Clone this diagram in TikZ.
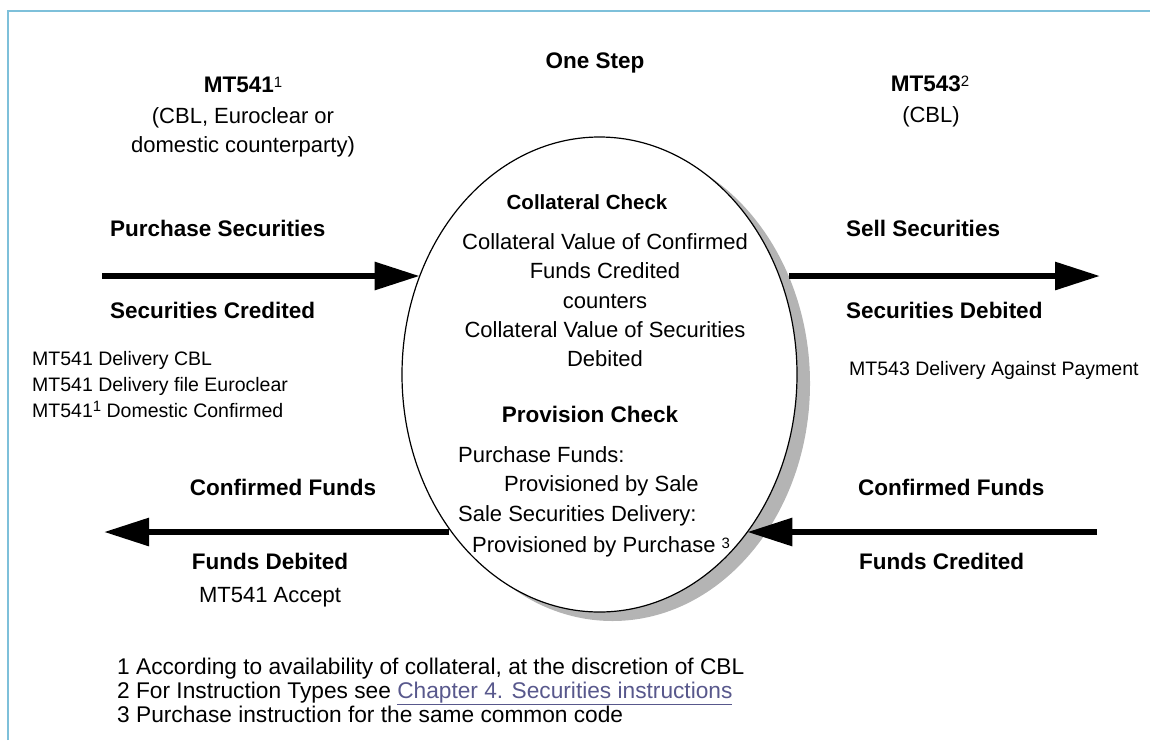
\documentclass[tikz,border=0pt]{standalone}
\usepackage{fontspec}
\setmainfont{Liberation Sans}
\usetikzlibrary{shapes.geometric,arrows.meta}
\definecolor{framecol}{RGB}{126,192,218}
\definecolor{shadowcol}{RGB}{180,180,180}
\definecolor{linkcol}{RGB}{88,88,140}
\newcommand\supnum[2][5pt]{\raisebox{#1}{\fontsize{15}{15}\selectfont\mdseries #2}}
\begin{document}
\begin{tikzpicture}[x=1pt,y=-1pt,
  bl/.style={font=\fontsize{22.5}{26}\selectfont\bfseries, inner sep=0pt},
  blsm/.style={font=\fontsize{20.5}{24}\selectfont\bfseries, inner sep=0pt},
  rg/.style={font=\fontsize{22}{26}\selectfont, inner sep=0pt},
  fn/.style={font=\fontsize{22.7}{26}\selectfont, inner sep=0pt},
  sm/.style={font=\fontsize{19.5}{24}\selectfont, inner sep=0pt},
  flow/.style={line width=6pt, -{Triangle[length=45pt,width=27pt]}},
  oval/.style={ellipse, minimum width=395pt, minimum height=475pt, inner sep=0pt}]
\useasboundingbox (0,0) rectangle (1150,740);
% frame
\draw[framecol, line width=2pt] (8,740) -- (8,11) -- (1150,11);
% central ellipse with shadow
\node[oval, fill=shadowcol] (sh) at (612.5,383.5) {};
\node[oval, fill=white, draw=black, line width=1.2pt] (ell) at (599.5,374.5) {};
% headings
\node[bl, anchor=base] (onestep) at (595,68) {One Step};
\node[bl, anchor=base] (mt541) at (243,92) {MT541\supnum{1}};
\node[rg, anchor=base] (mt541a) at (243,123) {(CBL, Euroclear or};
\node[rg, anchor=base] (mt541b) at (243,152) {domestic counterparty)};
\node[bl, anchor=base] (mt543) at (930,91) {MT543\supnum{2}};
\node[rg, anchor=base] (mt543a) at (931,122) {(CBL)};
% left top
\node[bl, anchor=base west] (purch) at (110,236) {Purchase Securities};
\node[bl, anchor=base west] (seccred) at (110,318) {Securities Credited};
\node[sm, anchor=base west] (l1) at (32,365) {MT541 Delivery CBL};
\node[sm, anchor=base west] (l2) at (32,391) {MT541 Delivery file Euroclear};
\node[sm, anchor=base west] (l3) at (32,417) {MT541\supnum[6pt]{1} Domestic Confirmed};
% right top
\node[bl, anchor=base west] (sell) at (846,236) {Sell Securities};
\node[bl, anchor=base west] (secdeb) at (846,318) {Securities Debited};
\node[sm, anchor=base west] (r1) at (849,375) {MT543 Delivery Against Payment};
% ellipse contents
\node[blsm, anchor=base] (cc) at (587,209) {Collateral Check};
\node[rg, anchor=base] (c1) at (605,249) {Collateral Value of Confirmed};
\node[rg, anchor=base] (c2) at (605,278) {Funds Credited};
\node[rg, anchor=base] (c3) at (605,308) {counters};
\node[rg, anchor=base] (c4) at (605,337) {Collateral Value of Securities};
\node[rg, anchor=base] (c5) at (605,366) {Debited};
\node[bl, anchor=base] (pc) at (590,422) {Provision Check};
\node[rg, anchor=base west] (p1) at (458,462) {Purchase Funds:};
\node[rg, anchor=base west] (p2) at (504,491) {Provisioned by Sale};
\node[rg, anchor=base west] (p3) at (458,521) {Sale Securities Delivery:};
\node[rg, anchor=base west] (p4) at (472,552) {Provisioned by Purchase \supnum[4pt]{3}};
% bottom left
\node[bl, anchor=base] (cfl) at (283,495) {Confirmed Funds};
\node[bl, anchor=base] (fdeb) at (270,569) {Funds Debited};
\node[rg, anchor=base] (acc) at (270,602) {MT541 Accept};
% bottom right
\node[bl, anchor=base west] (cfr) at (858,495) {Confirmed Funds};
\node[bl, anchor=base west] (fcred) at (859,569) {Funds Credited};
% footnotes
\node[fn, anchor=base west] (f1) at (117,674) {1 According to availability of collateral, at the discretion of CBL};
\node[fn, anchor=base west] (f2) at (117,698) {2 For Instruction Types see \textcolor{linkcol}{\underline{Chapter 4. Securities instructions}}};
\node[fn, anchor=base west] (f3) at (117,722) {3 Purchase instruction for the same common code};
% arrows
\coordinate (a1s) at (102,276);
\coordinate (a2e) at (1100,276);
\coordinate (a3e) at (104,532);
\coordinate (a4s) at (1097,532);
\draw[flow] (a1s) -- (a1s -| ell.151);
\draw[flow] (a2e -| sh.31) -- (a2e);
\draw[flow] (a3e -| ell.226.6) -- (a3e);
\draw[flow] (a4s) -- (a4s -| ell.313.4);
\end{tikzpicture}
\end{document}
